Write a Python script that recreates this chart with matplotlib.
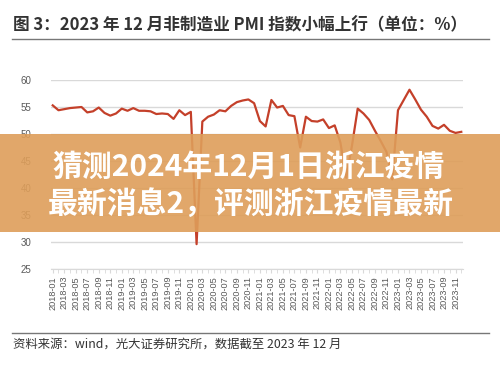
import matplotlib
matplotlib.use("Agg")
import matplotlib.pyplot as plt
from matplotlib.patches import Rectangle
from matplotlib.lines import Line2D

plt.rcParams['font.family'] = ['Noto Sans CJK SC', 'DejaVu Sans']

months = [f"{y}-{m:02d}" for y in range(2018, 2024) for m in range(1, 13)]
pmi = [
    55.3, 54.4, 54.6, 54.8, 54.9, 55.0, 54.0, 54.2, 54.9, 53.9, 53.4, 53.8,
    54.7, 54.3, 54.8, 54.3, 54.3, 54.2, 53.7, 53.8, 53.7, 52.8, 54.4, 53.5,
    54.1, 29.6, 52.3, 53.2, 53.6, 54.4, 54.2, 55.2, 55.9, 56.2, 56.4, 55.7,
    52.4, 51.4, 56.3, 54.9, 55.2, 53.5, 53.3, 47.5, 53.2, 52.4, 52.3, 52.7,
    51.1, 51.6, 48.4, 41.9, 47.8, 54.7, 53.8, 52.6, 50.6, 48.7, 46.7, 41.6,
    54.4, 56.3, 58.2, 56.4, 54.5, 53.2, 51.5, 51.0, 51.7, 50.6, 50.2, 50.4,
]
yticks = [25, 30, 35, 40, 45, 50, 55, 60]

title = "图 3：2023 年 12 月非制造业 PMI 指数小幅上行（单位：%）"
source = "资料来源：wind，光大证券研究所，数据截至 2023 年 12 月"
banner1 = "猜测2024年12月1日浙江疫情"
banner2 = "最新消息2，评测浙江疫情最新"

W, H = 500, 366
fig = plt.figure(figsize=(W / 100, H / 100), dpi=100)
fig.patch.set_facecolor('white')

def fx(px):
    return px / W

def fy(py):
    return 1 - py / H

ax = fig.add_axes([fx(51), fy(269), fx(463) - fx(51), fy(80) - fy(269)])
x = list(range(len(months)))
ax.plot(x, pmi, color='#C4402A', lw=1.6, zorder=3, solid_joinstyle='round')
ax.set_xlim(-0.3, len(months) - 0.7)
ax.set_ylim(25, 60)
ax.set_yticks(yticks)
ax.yaxis.grid(True, color='#D9D9D9', lw=1.0)
ax.set_axisbelow(True)
for s in ['top', 'right', 'left']:
    ax.spines[s].set_visible(False)
ax.spines['bottom'].set_color('#D9D9D9')
ax.tick_params(axis='y', length=0, labelsize=7, labelcolor='#595959', pad=14)
ax.set_xticks(x[::2])
ax.set_xticklabels(months[::2], rotation=90, fontsize=6.6, color='#595959',
                   family=['Liberation Sans', 'DejaVu Sans'])
ax.set_xticks(x, minor=True)
ax.tick_params(axis='x', which='both', length=3, color='#D9D9D9', pad=2)
for lbl in ax.get_yticklabels():
    lbl.set_family(['Liberation Sans', 'DejaVu Sans'])

# title & rules
fig.text(fx(13), fy(25), title, fontsize=12.0, fontweight='bold', color='#333333',
         va='center', ha='left')
fig.add_artist(Line2D([fx(12), fx(489)], [fy(39), fy(39)], color='#777777', lw=1.0))
fig.add_artist(Line2D([fx(12), fx(489)], [fy(333), fy(333)], color='#777777', lw=1.0))
fig.text(fx(13), fy(344), source, fontsize=8.9, color='#333333', va='center', ha='left')

# overlay banner
fig.add_artist(Rectangle((0, fy(232)), 1, fy(134) - fy(232), transform=fig.transFigure,
                         facecolor='#DE9E5A', alpha=0.9, edgecolor='none', zorder=5))
fig.text(fx(249), fy(167), banner1, fontsize=21.5, fontweight='bold', color='white',
         ha='center', va='center', zorder=6)
fig.text(fx(251), fy(204), banner2, fontsize=21.5, fontweight='bold', color='white',
         ha='center', va='center', zorder=6)

fig.savefig('out.png', dpi=100)
